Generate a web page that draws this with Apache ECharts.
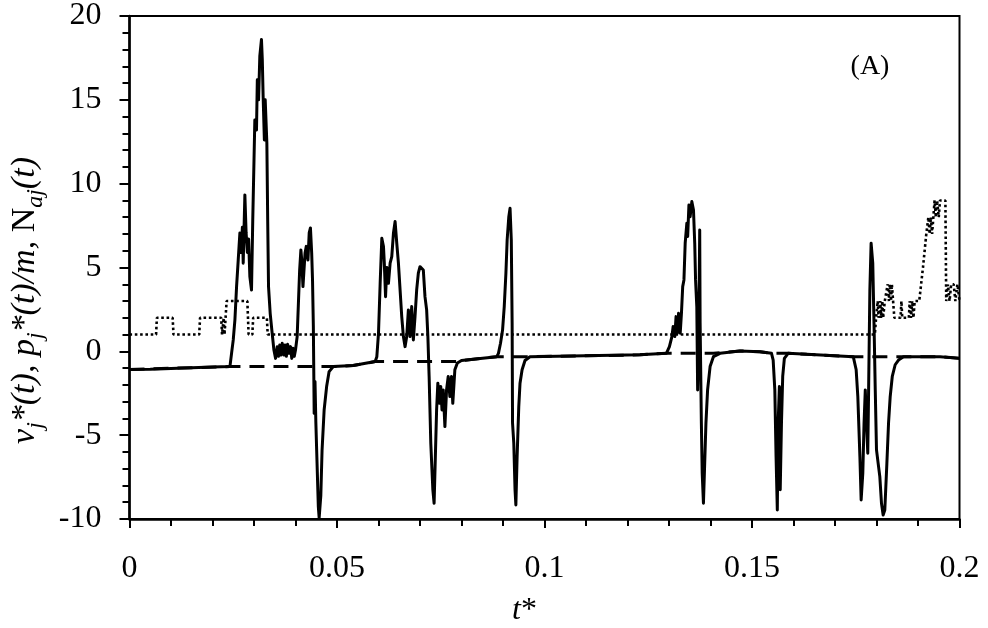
<!DOCTYPE html>
<html>
<head>
<meta charset="utf-8">
<title>v_j*(t), p_j*(t)/m, N_aj(t)</title>
<script src="https://cdn.jsdelivr.net/npm/echarts@6.0.0/dist/echarts.min.js"></script>
<style>
  html, body { margin: 0; padding: 0; background: #fff; }
  #chart { width: 988px; height: 628px; }
</style>
</head>
<body>
<div id="chart"></div>
<script>
// axis ranges / ticks
const xRange = [0, 0.2]
const yRange = [-10, 20]
const xStep = 0.05
const yStep = 5

// v_j*(t) : solid line, [t*, value]
const velocity = [
  [0, -1.08], [0.005, -1.07], [0.010, -1.02], [0.015, -0.98], [0.020, -0.94], [0.0242, -0.91],
  [0.0246, -0.11], [0.0250, 0.68], [0.0254, 1.87], [0.0258, 3.86], [0.0262, 5.45], [0.0266, 7.06],
  [0.0269, 5.9], [0.0272, 7.4], [0.0274, 5.26], [0.0278, 9.33], [0.0281, 7.06], [0.0284, 5.9],
  [0.0287, 6.7], [0.0290, 4.46], [0.0294, 3.66], [0.0297, 7.84], [0.0300, 11.4], [0.0302, 13.8],
  [0.0306, 13.2], [0.0308, 16.2], [0.0311, 15.0], [0.0314, 17.6], [0.0318, 18.6], [0.0320, 17.4],
  [0.0322, 15.2], [0.0325, 12.6], [0.0327, 15.0], [0.0331, 12.4], [0.0333, 7.84], [0.0335, 3.86],
  [0.0339, 2.27], [0.0343, 1.27], [0.0348, 0.08], [0.0352, -0.42], [0.0356, 0.28], [0.0359, -0.3],
  [0.0362, 0.38], [0.0365, -0.22], [0.0368, 0.48], [0.0372, -0.22], [0.0375, 0.38], [0.0378, -0.3],
  [0.0381, 0.42], [0.0384, -0.12], [0.0388, 0.28], [0.0391, -0.42], [0.0394, 0.18], [0.0397, -0.3],
  [0.0400, 0.08], [0.0404, 0.88], [0.0407, 2.86], [0.0410, 4.85], [0.0413, 6.05], [0.0415, 5.45],
  [0.0418, 3.86], [0.0420, 4.66], [0.0423, 5.86], [0.0426, 6.26], [0.0430, 5.45], [0.0433, 7.06],
  [0.0436, 7.36], [0.0439, 5.86], [0.0441, 4.26], [0.0443, 1.5], [0.0445, -3.7], [0.0447, -1.8],
  [0.0449, -4.2], [0.0451, -5.9], [0.0455, -9.26], [0.0457, -9.93], [0.0461, -8.6], [0.0464, -5.9],
  [0.0469, -3.5], [0.0475, -2.1], [0.0481, -1.21], [0.0491, -0.91], [0.0539, -0.85], [0.0592, -0.61],
  [0.0596, -0.32], [0.0600, 1.08], [0.0604, 4.06], [0.0608, 6.74], [0.0612, 6.25], [0.0614, 5.26],
  [0.0617, 3.26], [0.0620, 5.0], [0.0624, 4.06], [0.0628, 5.26], [0.0632, 5.65], [0.0636, 7.04],
  [0.0640, 7.74], [0.0644, 6.46], [0.0648, 5.26], [0.0652, 3.66], [0.0656, 2.07], [0.0660, 0.88],
  [0.0664, 0.28], [0.0668, 0.88], [0.0672, 2.47], [0.0676, 0.88], [0.0680, 2.67], [0.0684, 0.68],
  [0.0688, 2.07], [0.0692, 3.66], [0.0696, 4.66], [0.0700, 5.05], [0.0704, 5.15], [0.0708, 4.85],
  [0.0712, 3.26], [0.0716, 2.47], [0.0719, 0.88], [0.0722, -1.5], [0.0726, -5.48], [0.0731, -8.26],
  [0.0734, -9.06], [0.0737, -6.28], [0.0740, -3.5], [0.0743, -1.9], [0.0747, -3.1], [0.0750, -2.1],
  [0.0753, -3.5], [0.0756, -2.3], [0.0760, -4.49], [0.0764, -2.3], [0.0768, -1.5], [0.0772, -2.7],
  [0.0776, -1.5], [0.0779, -3.1], [0.0784, -1.1], [0.0790, -0.7], [0.0800, -0.55], [0.0885, -0.32],
  [0.0889, -0.12], [0.0894, 0.48], [0.0899, 1.28], [0.0903, 2.67], [0.0907, 4.66], [0.0910, 6.64],
  [0.0914, 8.03], [0.0917, 8.53], [0.0920, 6.64], [0.0922, 1.67], [0.0923, -4.29], [0.0926, -5.48],
  [0.0929, -8.26], [0.0931, -9.16], [0.0934, -6.28], [0.0938, -3.3], [0.0941, -1.9], [0.0946, -1.1],
  [0.0953, -0.55], [0.0965, -0.32], [0.1230, -0.21], [0.1294, -0.11],
  [0.1301, 0.28], [0.1307, 0.88], [0.1310, 1.48], [0.1314, 0.88], [0.1317, 2.07], [0.1320, 1.08],
  [0.1323, 2.27], [0.1327, 1.08], [0.1330, 2.27], [0.1333, 3.86], [0.1336, 4.26], [0.1339, 6.45],
  [0.1343, 7.64], [0.1345, 6.85], [0.1348, 8.73], [0.1351, 8.03], [0.1355, 8.93], [0.1359, 8.43],
  [0.1362, 6.45], [0.1364, 4.26], [0.1367, 2.67], [0.1369, -2.3], [0.1372, 1.67], [0.1374, 7.24],
  [0.1375, 1.67], [0.1378, -4.29], [0.1380, -7.27], [0.1383, -9.06], [0.1386, -6.68], [0.1389, -4.29],
  [0.1393, -2.3], [0.1399, -0.91], [0.1407, -0.32], [0.1423, -0.12], [0.1471, 0.02], [0.1519, -0.02],
  [0.1547, -0.12], [0.1551, -0.52], [0.1555, -2.3], [0.1558, -6.28], [0.1561, -9.46], [0.1563, -4.29],
  [0.1566, -2.1], [0.1568, -8.26], [0.1571, -4.29], [0.1574, -1.5], [0.1578, -0.42], [0.1587, -0.12],
  [0.1632, -0.18], [0.1744, -0.32], [0.1751, -1.1], [0.1755, -2.7], [0.1760, -6.28], [0.1763, -8.86],
  [0.1767, -7.27], [0.1770, -4.29], [0.1773, -2.3], [0.1776, -4.29], [0.1779, -6.08], [0.1781, -2.3],
  [0.1784, 3.66], [0.1787, 6.45], [0.1791, 5.26], [0.1794, 1.67], [0.1797, -2.3], [0.1800, -5.88],
  [0.1804, -6.68], [0.1808, -7.47], [0.1812, -9.06], [0.1816, -9.76], [0.1820, -9.46], [0.1825, -6.68],
  [0.1829, -4.29], [0.1833, -2.7], [0.1838, -1.5], [0.1845, -0.8], [0.1853, -0.52], [0.1865, -0.32],
  [0.1953, -0.32], [0.2, -0.42]
]

// p_j*(t)/m : dashed line
const momentum = [
  [0, -1.08], [0.0242, -0.91], [0.0491, -0.91], [0.0539, -0.85], [0.0592, -0.61], [0.0790, -0.61],
  [0.0800, -0.55], [0.0885, -0.32], [0.0965, -0.32], [0.1230, -0.21], [0.1294, -0.11], [0.1407, -0.11],
  [0.1471, 0.02], [0.1519, -0.02], [0.1547, -0.12], [0.1587, -0.12], [0.1632, -0.18], [0.1744, -0.32],
  [0.1953, -0.32], [0.2, -0.42]
]

// N_aj(t) : dotted line
const naj = [
  [0, 1], [0.0064, 1], [0.0066, 2], [0.0104, 2], [0.0106, 1], [0.0168, 1], [0.0170, 2], [0.0221, 2],
  [0.0223, 1], [0.0226, 1], [0.0227, 2], [0.0229, 1], [0.0232, 1], [0.0234, 3], [0.0284, 3], [0.0287, 1],
  [0.0296, 1], [0.0298, 2], [0.0331, 2], [0.0333, 1], [0.1796, 1], [0.1799, 2], [0.1803, 3], [0.1805, 2],
  [0.1809, 3], [0.1811, 2], [0.1814, 3], [0.1816, 2], [0.1820, 3], [0.1824, 3], [0.1827, 4], [0.1830, 3],
  [0.1832, 4], [0.1835, 3], [0.1837, 4], [0.1840, 3], [0.1843, 2], [0.1858, 2], [0.1860, 3], [0.1862, 2],
  [0.1878, 2], [0.1880, 3], [0.1883, 2], [0.1886, 3], [0.1889, 2], [0.1892, 3], [0.1903, 3], [0.1912, 5],
  [0.1920, 7], [0.1925, 8], [0.1928, 7], [0.1931, 8], [0.1934, 7], [0.1937, 8], [0.1940, 9], [0.1943, 8],
  [0.1946, 9], [0.1950, 8], [0.1953, 9], [0.1966, 9], [0.1968, 3], [0.1972, 4], [0.1976, 3], [0.1980, 4],
  [0.1986, 4], [0.1990, 3], [0.1995, 4], [0.2, 3]
]

const serif = 'Liberation Serif'
const chart = echarts.init(document.getElementById('chart'))

chart.setOption({
  animation: false,
  backgroundColor: '#fff',
  grid: {
    left: 129.5,
    right: 28.5,
    top: 16,
    bottom: 109,
    outerBoundsMode: 'none', // keep the plot box where it is, labels may sit outside
    show: true,
    borderColor: '#000',
    borderWidth: 2
  },
  graphic: [{
    type: 'text',
    x: 870,
    y: 67,
    style: {
      text: '(A)',
      font: '28px "Liberation Serif"',
      fill: '#000',
      align: 'center',
      verticalAlign: 'middle',
      textAlign: 'center',
      textVerticalAlign: 'middle'
    }
  }],
  xAxis: {
    type: 'value',
    min: xRange[0],
    max: xRange[1],
    interval: xStep,
    name: '{i|t}{r|*}',
    nameLocation: 'middle',
    nameGap: 76,
    nameTextStyle: {
      padding: [0, 40, 0, 0],
      rich: {
        i: { fontFamily: serif, fontStyle: 'italic', fontSize: 32, color: '#000' },
        r: { fontFamily: serif, fontSize: 32, color: '#000' }
      }
    },
    axisLine: { onZero: false, lineStyle: { color: '#000', width: 2.5 } },
    axisTick: { inside: false, length: 9, lineStyle: { color: '#000', width: 2 } },
    minorTick: { show: true, splitNumber: 5, length: 7, lineStyle: { color: '#000', width: 2 } },
    axisLabel: { color: '#000', fontFamily: serif, fontSize: 32, margin: 34 },
    splitLine: { show: false },
    minorSplitLine: { show: false }
  },
  yAxis: {
    type: 'value',
    min: yRange[0],
    max: yRange[1],
    interval: yStep,
    name: '{i|v}{sb|j}{i|*(t), p}{sb|j}{i|*(t)/m, }{r|N}{sb|aj}{i|(t)}',
    nameLocation: 'middle',
    nameRotate: 90,
    nameGap: 66,
    nameTextStyle: {
      padding: [0, 66, 0, 0],
      rich: {
        i: { fontFamily: serif, fontStyle: 'italic', fontSize: 34, lineHeight: 46, color: '#000' },
        r: { fontFamily: serif, fontSize: 34, lineHeight: 46, color: '#000' },
        sb: { fontFamily: serif, fontStyle: 'italic', fontSize: 24, lineHeight: 24, verticalAlign: 'bottom', color: '#000' }
      }
    },
    axisLine: { onZero: false, lineStyle: { color: '#000', width: 2.5 } },
    axisTick: { inside: false, length: 10, lineStyle: { color: '#000', width: 2 } },
    minorTick: { show: true, splitNumber: 5, length: 7, lineStyle: { color: '#000', width: 2 } },
    axisLabel: { color: '#000', fontFamily: serif, fontSize: 32, margin: 28 },
    splitLine: { show: false },
    minorSplitLine: { show: false }
  },
  series: [
    {
      name: 'N_aj(t)',
      type: 'line',
      data: naj,
      showSymbol: false,
      silent: true,
      lineStyle: { color: '#000', width: 2.6, type: [2.6, 2.7] }
    },
    {
      name: 'p_j*(t)/m',
      type: 'line',
      data: momentum,
      showSymbol: false,
      silent: true,
      lineStyle: { color: '#000', width: 3, type: [15, 9] }
    },
    {
      name: 'v_j*(t)',
      type: 'line',
      data: velocity,
      showSymbol: false,
      silent: true,
      lineStyle: { color: '#000', width: 3, join: 'round' }
    }
  ]
})
</script>
</body>
</html>
